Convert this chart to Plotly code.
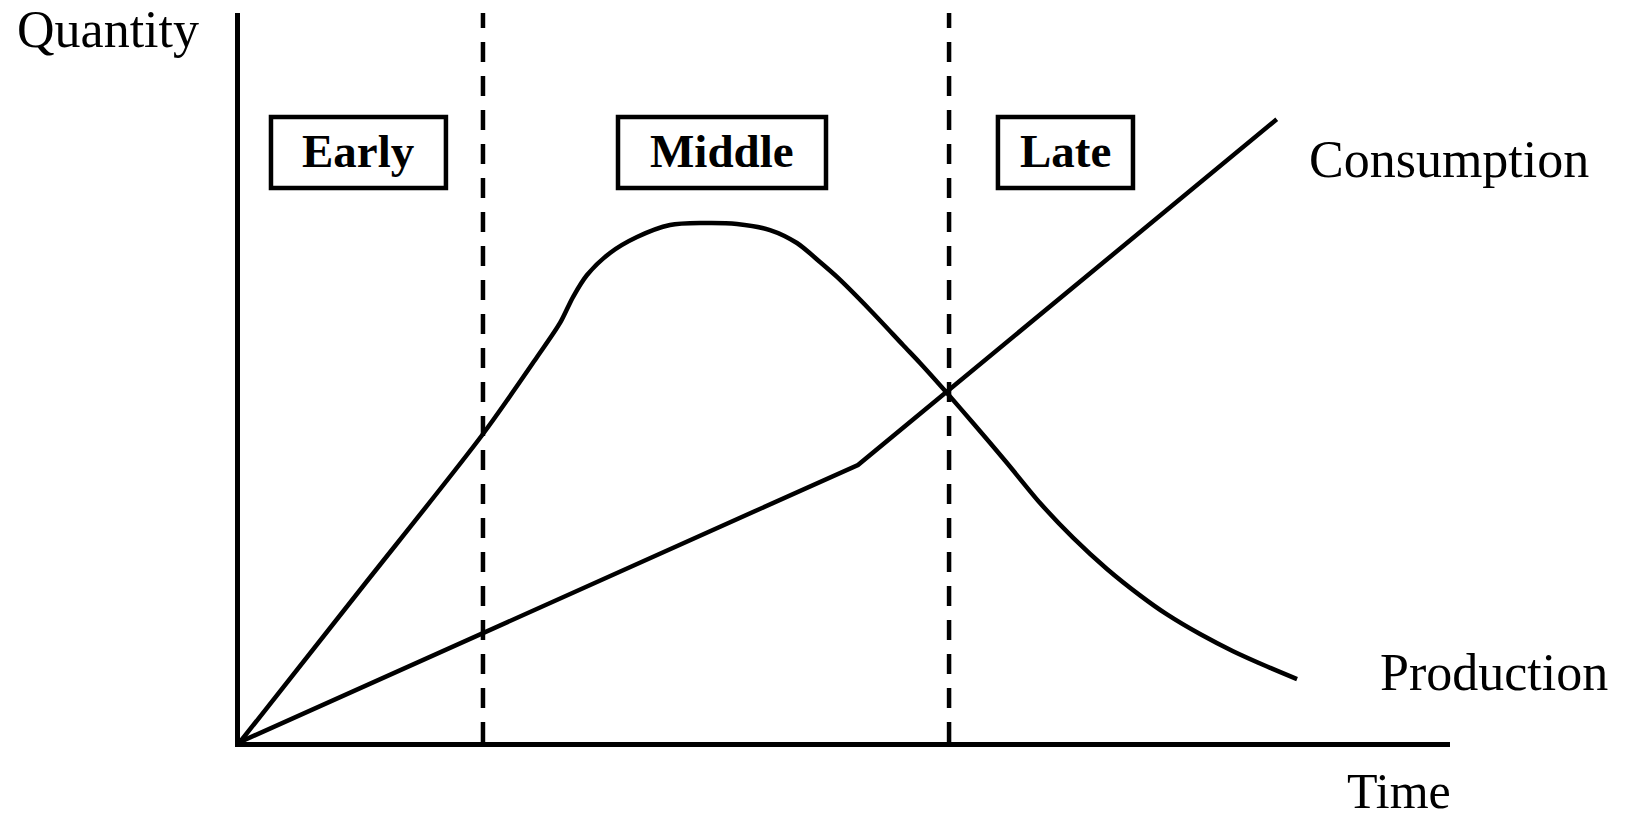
import plotly.graph_objects as go

# ---- data (time units 0-100, quantity units 0-100) ----
production_t = [0, 9.92, 20.08, 24.55, 26.45, 27.52, 28.68, 30.58, 32.81, 35.54, 38.26, 41.07,
                43.80, 46.03, 47.93, 49.34, 52.07, 54.79, 56.20, 58.43, 60.58, 63.39, 66.12,
                68.84, 71.65, 74.38, 76.61, 79.34, 82.07, 84.88, 87.36]
production_q = [0, 20.85, 42.25, 52.81, 57.48, 61.04, 64.06, 67.08, 69.27, 70.92, 71.19, 71.06,
                70.23, 68.45, 65.84, 63.79, 59.26, 54.46, 51.99, 47.87, 43.76, 38.27, 32.78,
                28.04, 23.74, 20.12, 17.50, 14.81, 12.46, 10.36, 8.63]

consumption_t = [0, 51.07, 85.68]
consumption_q = [0, 38.0, 85.42]

phase_bounds = [20.08, 58.60]
phase_labels = ["Early", "Middle", "Late"]
series_labels = ["Consumption", "Production"]
axis_titles = ["Time", "Quantity"]

# ---- layout constants ----
W, H = 1630, 822
L, T = 240, 13
PW, PH = 1210, 729
R, B = W - L - PW, H - T - PH
phase_boxes = [(2.56, 17.02), (31.24, 48.43), (62.64, 73.80)]
box_y = (75.99, 85.73)
label_q = 81.07
serif = "Liberation Serif, Times New Roman, serif"
LW = 4.5

fig = go.Figure()
fig.add_trace(go.Scatter(x=production_t, y=production_q, mode="lines",
                         line=dict(color="black", width=LW, shape="spline", smoothing=0.8),
                         name=series_labels[1], showlegend=False, hoverinfo="skip"))
fig.add_trace(go.Scatter(x=consumption_t, y=consumption_q, mode="lines",
                         line=dict(color="black", width=LW),
                         name=series_labels[0], showlegend=False, hoverinfo="skip"))

shapes = []
for xb in phase_bounds:
    shapes.append(dict(type="line", xref="x", yref="y", x0=xb, x1=xb, y0=0, y1=100,
                       line=dict(color="black", width=LW, dash="20px,14px")))
for (x0, x1) in phase_boxes:
    shapes.append(dict(type="rect", xref="x", yref="y", x0=x0, x1=x1, y0=box_y[0], y1=box_y[1],
                       line=dict(color="black", width=LW), fillcolor="white"))

annotations = []
for (x0, x1), lab in zip(phase_boxes, phase_labels):
    annotations.append(dict(x=(x0 + x1) / 200, y=label_q / 100, text="<b>%s</b>" % lab,
                            xanchor="center", font=dict(family=serif, size=47, color="black")))

annotations += [
    dict(x=-0.186, y=0.9767, text=axis_titles[1], xanchor="left", size=52),
    dict(x=0.8818, y=0.7997, text=series_labels[0], xanchor="left", size=52),
    dict(x=0.9405, y=0.0953, text=series_labels[1], xanchor="left", size=52),
    dict(x=1.0025, y=-0.0678, text=axis_titles[0], xanchor="right", size=50),
]
for i, a in enumerate(annotations):
    a.update(xref="paper", yref="paper", showarrow=False, yanchor="middle")
    if i >= 3:
        a["font"] = dict(family=serif, size=a.pop("size"), color="black")

fig.update_layout(
    width=W, height=H, margin=dict(l=L, r=R, t=T, b=B),
    paper_bgcolor="white", plot_bgcolor="white",
    shapes=shapes, annotations=annotations, showlegend=False,
)
fig.update_xaxes(range=[0, 100], showgrid=False, zeroline=False, showticklabels=False,
                 ticks="", showline=True, linecolor="black", linewidth=LW, fixedrange=True)
fig.update_yaxes(range=[0, 100], showgrid=False, zeroline=False, showticklabels=False,
                 ticks="", showline=True, linecolor="black", linewidth=LW, fixedrange=True)

fig.write_html("out.html", config={"displayModeBar": False},
               post_script="document.body.style.margin='0px';document.body.style.overflow='hidden';")
